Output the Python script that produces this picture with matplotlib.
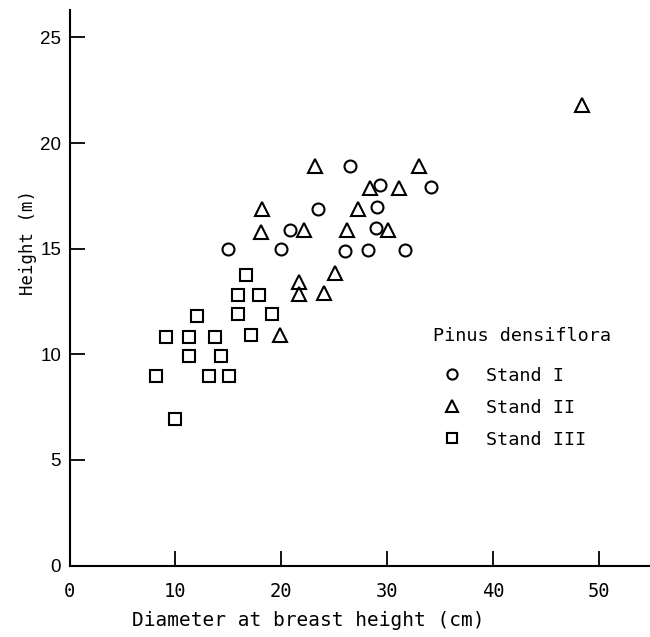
import matplotlib
matplotlib.use("Agg")
import matplotlib.pyplot as plt

# Stand I (circles)
s1_dbh = [15.0, 20.8, 19.95, 23.5, 26.5, 29.3, 34.1, 29.0, 28.9, 26.05, 28.2, 31.65]
s1_h = [15.0, 15.9, 15.0, 16.9, 18.9, 18.0, 17.9, 16.95, 15.96, 14.9, 14.96, 14.96]

# Stand II (triangles)
s2_dbh = [23.2, 33.0, 28.4, 31.1, 18.2, 27.2, 18.1, 22.1, 26.15, 30.1, 25.05, 21.7, 21.7, 24.0, 19.9, 48.4]
s2_h = [18.9, 18.9, 17.85, 17.85, 16.9, 16.9, 15.8, 15.9, 15.9, 15.9, 13.86, 13.4, 12.85, 12.9, 10.9, 21.8]

# Stand III (squares)
s3_dbh = [16.7, 15.9, 17.9, 12.0, 15.9, 19.1, 9.1, 11.3, 13.75, 17.1, 11.25, 14.3, 8.2, 13.2, 15.1, 10.0]
s3_h = [13.75, 12.8, 12.8, 11.8, 11.9, 11.9, 10.8, 10.8, 10.8, 10.9, 9.9, 9.9, 8.97, 8.97, 8.97, 6.93]

x_ticks = [0, 10, 20, 30, 40, 50]
y_ticks = [0, 5, 10, 15, 20, 25]
legend_title = "Pinus densiflora"
labels = ["Stand I", "Stand II", "Stand III"]

mono = "DejaVu Sans Mono"

fig = plt.figure(figsize=(6.5, 6.37), dpi=100)
ax = fig.add_axes([69.5 / 650, (637 - 565.5) / 637, (650 - 69.5) / 650, 555.5 / 637])

common = dict(linestyle="none", markerfacecolor="none", markeredgecolor="black", markeredgewidth=1.5)
ax.plot(s1_dbh, s1_h, marker="o", markersize=8.6, label=labels[0], **common)
ax.plot(s2_dbh, s2_h, marker="^", markersize=9.5, label=labels[1], **common)
ax.plot(s3_dbh, s3_h, marker="s", markersize=8.2, label=labels[2], **common)

ax.set_xlim(0, 54.8)
ax.set_ylim(0, 26.3)
ax.spines["top"].set_visible(False)
ax.spines["right"].set_visible(False)
ax.spines["left"].set_linewidth(1.5)
ax.spines["bottom"].set_linewidth(1.5)

ax.set_xticks(x_ticks)
ax.set_yticks(y_ticks)
ax.tick_params(axis="both", direction="in", length=11, width=1.3)
ax.tick_params(axis="x", pad=12)
ax.tick_params(axis="y", pad=6)
for t in ax.get_xticklabels():
    t.set_fontfamily(mono)
    t.set_fontsize(13.5)
for t in ax.get_yticklabels():
    t.set_fontfamily("Liberation Sans")
    t.set_fontsize(13.5)

ax.set_xlabel("Diameter at breast height (cm)", fontfamily=mono, fontsize=14)
ax.xaxis.set_label_coords(0.411, -0.082)
ax.set_ylabel("Height (m)", fontfamily=mono, fontsize=12.5, va="center")
ax.yaxis.set_label_coords(-0.072, 0.582)

leg = ax.legend(title=legend_title, loc="upper left", bbox_to_anchor=(0.626, 0.43),
                frameon=False, prop={"family": mono, "size": 13.3},
                title_fontproperties={"family": mono, "size": 13.3},
                alignment="left", borderpad=0, handletextpad=0.8,
                labelspacing=0.75, handlelength=2.05, borderaxespad=0,
                markerscale=0.85)
leg._legend_box.sep = 16

fig.savefig("out.png", dpi=100)
